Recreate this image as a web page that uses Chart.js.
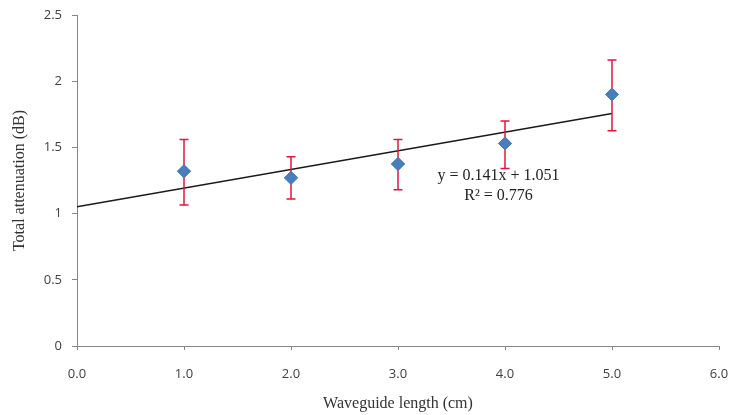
<!DOCTYPE html>
<html>
<head>
<meta charset="utf-8">
<script src="https://cdn.jsdelivr.net/npm/chart.js@4"></script>
<style>
  html, body { margin: 0; padding: 0; background: #fff; }
  #wrap { width: 729px; height: 415px; }
</style>
</head>
<body>
<div id="wrap"><canvas id="chart" width="729" height="415"></canvas></div>
<script>
// measured values
const lengths = [1, 2, 3, 4, 5];
const attenuation = [1.32, 1.27, 1.375, 1.53, 1.90];
const errUpper = [1.56, 1.43, 1.56, 1.70, 2.16];
const errLower = [1.065, 1.11, 1.18, 1.34, 1.625];

// linear fit shown on the chart
const slope = 0.141;
const intercept = 1.051;
const fitX = [0, 5];
const equationLines = ["y = 0.141x + 1.051", "R\u00B2 = 0.776"];

const errorBars = {
  id: "errorBars",
  afterDatasetsDraw(chart) {
    const ctx = chart.ctx;
    const xs = chart.scales.x, ys = chart.scales.y;
    ctx.save();
    ctx.strokeStyle = "#e3173a";
    ctx.lineWidth = 1.5;
    lengths.forEach((x, i) => {
      const px = xs.getPixelForValue(x);
      const top = ys.getPixelForValue(errUpper[i]);
      const bot = ys.getPixelForValue(errLower[i]);
      ctx.beginPath();
      ctx.moveTo(px, top); ctx.lineTo(px, bot);
      ctx.moveTo(px - 4.5, top); ctx.lineTo(px + 4.5, top);
      ctx.moveTo(px - 4.5, bot); ctx.lineTo(px + 4.5, bot);
      ctx.stroke();
    });
    // redraw markers on top of the bars
    const meta = chart.getDatasetMeta(1);
    meta.data.forEach(p => p.draw(ctx));
    ctx.restore();
  }
};

const equationLabel = {
  id: "equationLabel",
  afterDraw(chart) {
    const ctx = chart.ctx;
    const xs = chart.scales.x, ys = chart.scales.y;
    ctx.save();
    ctx.font = "16px 'Liberation Serif'";
    ctx.fillStyle = "#222";
    ctx.textAlign = "center";
    ctx.textBaseline = "middle";
    const cx = xs.getPixelForValue(3.94);
    ctx.fillText(equationLines[0], cx, ys.getPixelForValue(1.288));
    ctx.fillText(equationLines[1], cx, ys.getPixelForValue(1.136));
    ctx.restore();
  }
};

new Chart(document.getElementById("chart").getContext("2d"), {
  type: "scatter",
  data: {
    datasets: [
      {
        type: "line",
        data: fitX.map(x => ({ x, y: slope * x + intercept })),
        borderColor: "#1a1a1a",
        borderWidth: 1.5,
        pointRadius: 0,
        fill: false
      },
      {
        data: lengths.map((x, i) => ({ x, y: attenuation[i] })),
        pointStyle: "rectRot",
        pointRadius: 6.5,
        pointHoverRadius: 6.5,
        backgroundColor: "#4a7ebb",
        borderColor: "#4a7ebb",
        borderWidth: 1
      }
    ]
  },
  options: {
    responsive: false,
    animation: false,
    layout: { padding: { top: 15, right: 10, left: 0, bottom: 0 } },
    plugins: { legend: { display: false }, tooltip: { enabled: false } },
    scales: {
      x: {
        type: "linear",
        min: 0, max: 6,
        afterFit: s => { s.height = 69; s.paddingLeft = 0; s.paddingRight = 0; },
        ticks: {
          stepSize: 1,
          callback: v => v.toFixed(1),
          color: "#404040",
          font: { family: "'Open Sans'", size: 13 },
          padding: 16
        },
        grid: { drawOnChartArea: false, color: "#868686", tickLength: 4 },
        border: { color: "#868686" },
        title: {
          display: true,
          text: "Waveguide length (cm)",
          color: "#333",
          font: { family: "'Liberation Serif'", size: 16 },
          padding: { top: 4, bottom: 2 }
        }
      },
      y: {
        min: 0, max: 2.5,
        afterFit: s => { s.width = 77; s.paddingTop = 0; s.paddingBottom = 0; },
        ticks: {
          stepSize: 0.5,
          callback: v => String(v),
          color: "#404040",
          font: { family: "'Open Sans'", size: 13 },
          padding: 10
        },
        grid: { drawOnChartArea: false, color: "#868686", tickLength: 5 },
        border: { color: "#868686" },
        title: {
          display: true,
          text: "Total attenuation (dB)",
          color: "#333",
          font: { family: "'Liberation Serif'", size: 16 },
          padding: { top: 10, bottom: 2 }
        }
      }
    }
  },
  plugins: [errorBars, equationLabel]
});
</script>
</body>
</html>
